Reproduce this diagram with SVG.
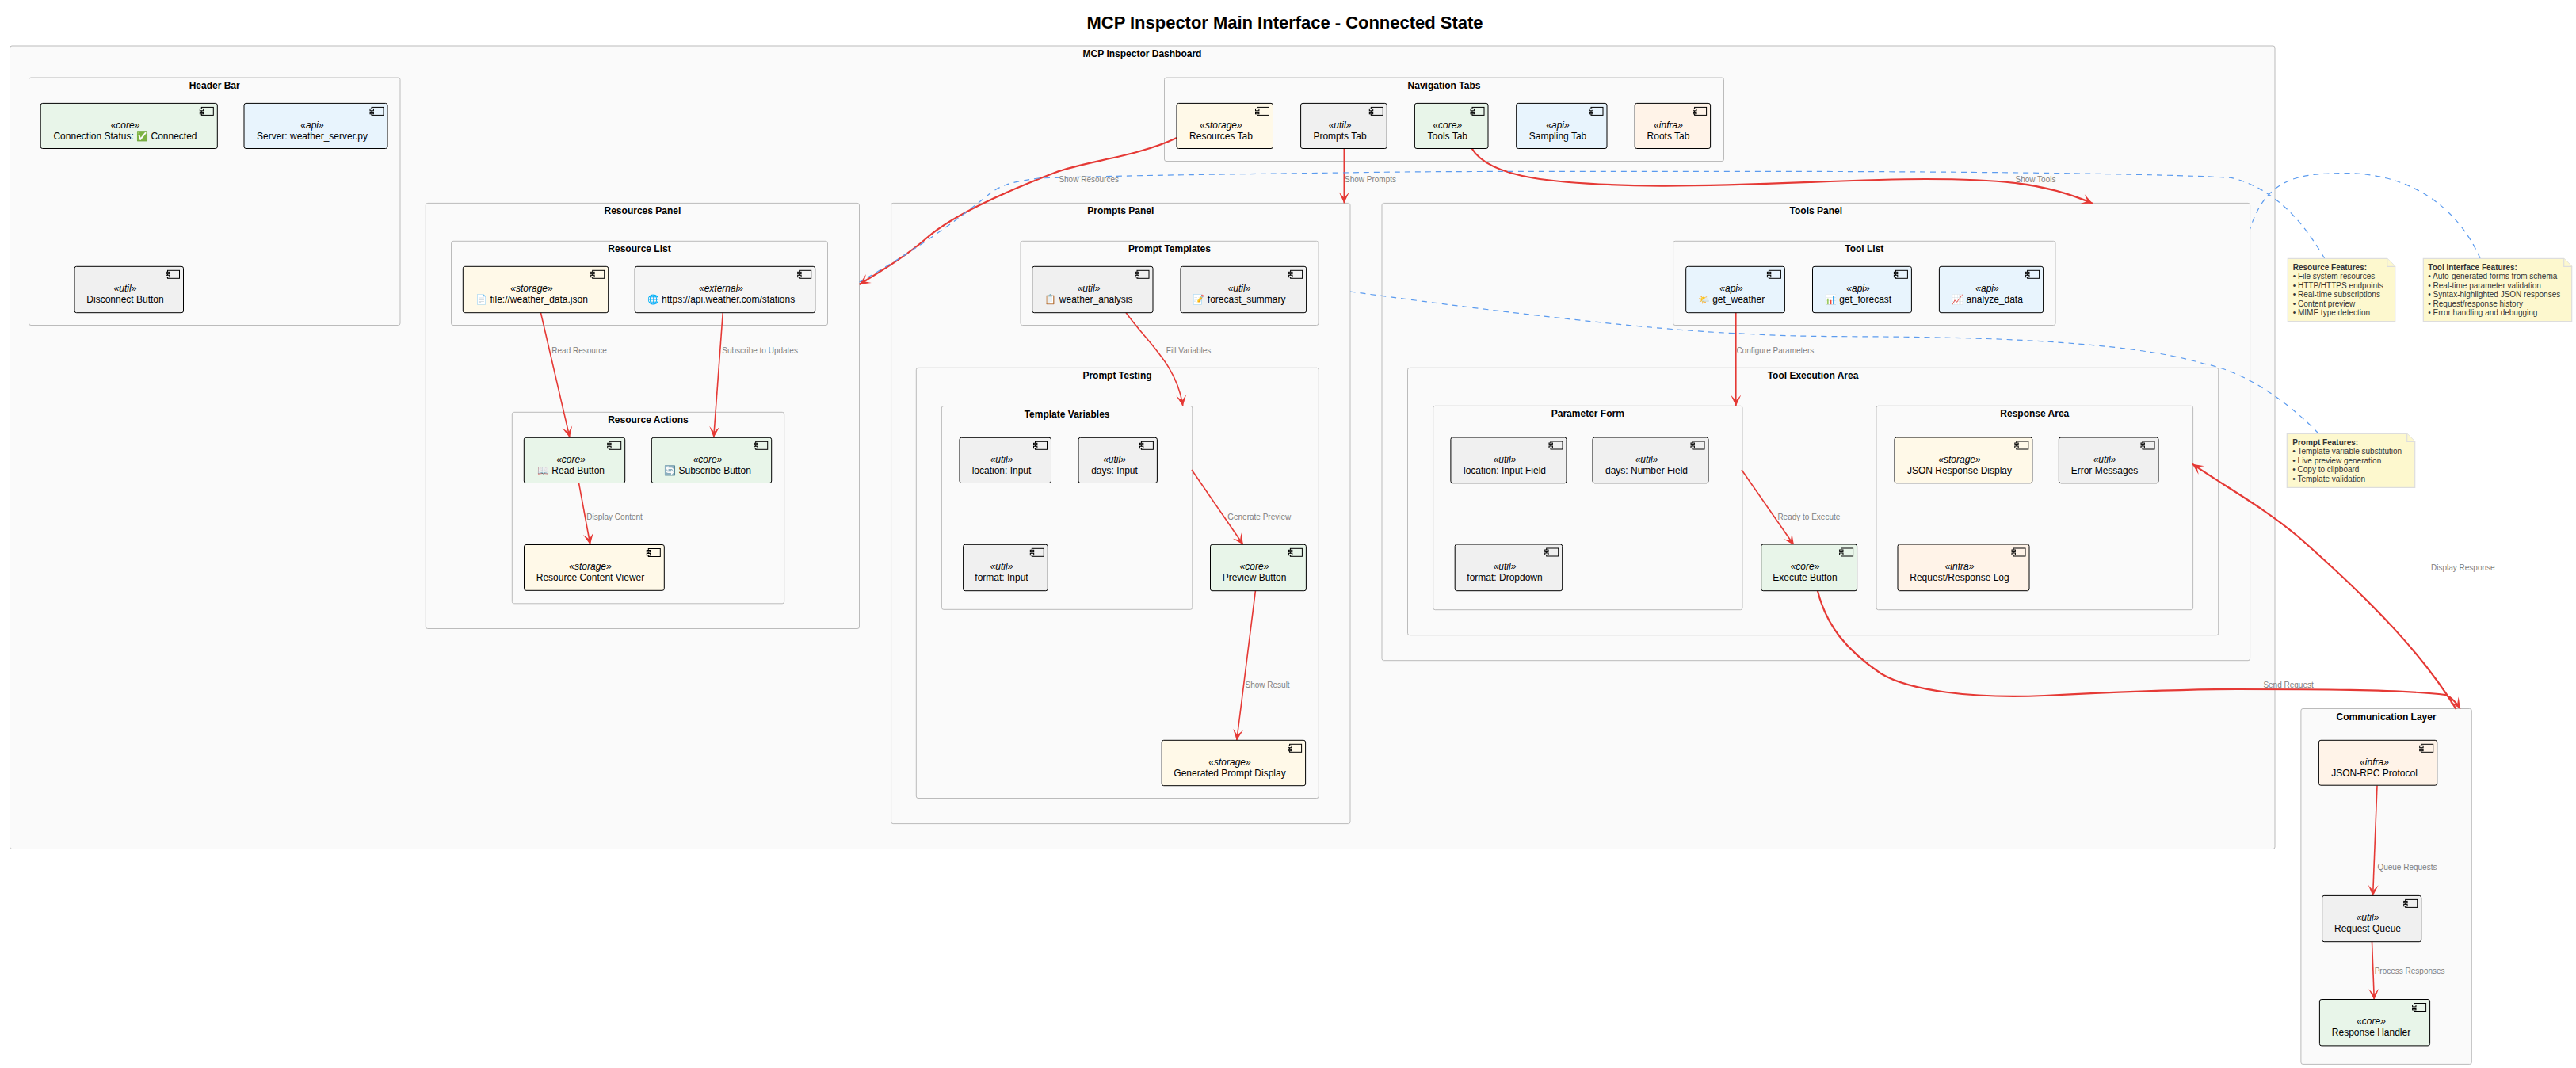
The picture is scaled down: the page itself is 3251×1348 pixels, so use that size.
<svg xmlns="http://www.w3.org/2000/svg" width="3251" height="1348" viewBox="0 0 3251 1348">
<style>
text{font-family:"Liberation Sans",Arial,sans-serif}
.ft{font-size:12px;font-weight:bold;fill:#000;text-anchor:middle}
.f{fill:#FAFAFA;stroke:#BBB;stroke-width:1}
.nb{stroke:#000;stroke-width:1}
.core{fill:#E8F5E9}.api{fill:#E8F4FD}.storage{fill:#FFF9E8}.util{fill:#F0F0F0}.infra{fill:#FFF3E8}.external{fill:#F5F5F5}
.s{font-size:12px;font-style:italic;fill:#000;text-anchor:middle}
.n{font-size:12px;fill:#000;text-anchor:middle}
.l{font-size:10px;fill:#808080}
.r{fill:none;stroke:#E53935;stroke-width:1.6}
.r2{fill:none;stroke:#E53935;stroke-width:2.2}
.b{fill:none;stroke:#5B9BEF;stroke-width:1.2;stroke-dasharray:7 6}
.note{fill:#FDF8CE;stroke:#DDD;stroke-width:1.2}
.nt{font-size:10px;fill:#333}
.ntb{font-size:10px;fill:#333;font-weight:bold}
</style>
<defs>
<g id="ci"><rect x="2" y="0" width="15" height="10" stroke="#000"/><rect x="0" y="2" width="4.4" height="2.4" stroke="#000"/><rect x="0" y="6" width="4.4" height="2.4" stroke="#000"/></g>
<marker id="a" markerUnits="userSpaceOnUse" viewBox="-15 -8 16 16" refX="0" refY="0" markerWidth="16" markerHeight="16" orient="auto"><path d="M0 0L-14 -6.5L-7 0L-14 6.5Z" fill="#E53935"/></marker>
</defs>
<rect width="3251" height="1348" fill="#fff"/>
<text x="1621.5" y="36" font-size="22" font-weight="bold" text-anchor="middle" textLength="500">MCP Inspector Main Interface - Connected State</text>

<g id="frames">
<g id="frame-dashboard"><rect class="f" x="12.5" y="58" width="2858.5" height="1013.5" rx="2.5"/><text class="ft" x="1441.5" y="72">MCP Inspector Dashboard</text></g>
<g id="frame-header"><rect class="f" x="36.5" y="98" width="468.5" height="312.5" rx="2.5"/><text class="ft" x="270.7" y="112">Header Bar</text></g>
<g id="frame-nav"><rect class="f" x="1469.5" y="98" width="706" height="105.5" rx="2.5"/><text class="ft" x="1822.5" y="112">Navigation Tabs</text></g>
<g id="frame-resources"><rect class="f" x="537.3" y="256.4" width="547.2" height="537.1" rx="2.5"/><text class="ft" x="810.9" y="270.4">Resources Panel</text></g>
<g id="frame-resource-list"><rect class="f" x="569.5" y="304.3" width="475" height="106.2" rx="2.5"/><text class="ft" x="807" y="318.3">Resource List</text></g>
<g id="frame-resource-actions"><rect class="f" x="646.3" y="520.3" width="343.4" height="241.5" rx="2.5"/><text class="ft" x="818" y="534.3">Resource Actions</text></g>
<g id="frame-prompts"><rect class="f" x="1124.6" y="256.4" width="579.4" height="783.2" rx="2.5"/><text class="ft" x="1414.3" y="270.4">Prompts Panel</text></g>
<g id="frame-prompt-templates"><rect class="f" x="1288" y="304.3" width="376" height="106.2" rx="2.5"/><text class="ft" x="1476" y="318.3">Prompt Templates</text></g>
<g id="frame-prompt-testing"><rect class="f" x="1156.3" y="464.3" width="508" height="543.2" rx="2.5"/><text class="ft" x="1410" y="478.3">Prompt Testing</text></g>
<g id="frame-template-vars"><rect class="f" x="1188.4" y="512.5" width="316.4" height="256.8" rx="2.5"/><text class="ft" x="1346.6" y="526.5">Template Variables</text></g>
<g id="frame-tools"><rect class="f" x="1744" y="256.4" width="1095.6" height="577.3" rx="2.5"/><text class="ft" x="2291.8" y="270.4">Tools Panel</text></g>
<g id="frame-tool-list"><rect class="f" x="2111.6" y="304.3" width="482.4" height="106.2" rx="2.5"/><text class="ft" x="2352.8" y="318.3">Tool List</text></g>
<g id="frame-tool-exec"><rect class="f" x="1776.5" y="464.3" width="1023.2" height="337.4" rx="2.5"/><text class="ft" x="2288" y="478.3">Tool Execution Area</text></g>
<g id="frame-param"><rect class="f" x="1808.7" y="512.3" width="390.3" height="257.4" rx="2.5"/><text class="ft" x="2003.8" y="526.3">Parameter Form</text></g>
<g id="frame-response"><rect class="f" x="2368" y="512.3" width="399.6" height="257.4" rx="2.5"/><text class="ft" x="2567.8" y="526.3">Response Area</text></g>
<g id="frame-comm"><rect class="f" x="2903.9" y="894.5" width="215.4" height="448.9" rx="2.5"/><text class="ft" x="3011.6" y="908.5">Communication Layer</text></g>
</g>

<g id="connectors">
<path class="r2" marker-end="url(#a)" d="M1485 174C1435 198 1371 203 1331 218C1300 230 1210 265 1170 300C1145 322 1115 340 1084.5 359"/>
<path class="r" marker-end="url(#a)" d="M1696.3 187.5V256.4"/>
<path class="r2" marker-end="url(#a)" d="M1857.6 187.5C1880 225 1960 233 2096 234.6C2220 235 2330 226 2430 226C2520 226 2580 230 2641 256.8"/>
<path class="r" marker-end="url(#a)" d="M682.3 394L719 552.3"/>
<path class="r" marker-end="url(#a)" d="M912.3 394L900.7 552.3"/>
<path class="r" marker-end="url(#a)" d="M730.4 609L744.9 687.5"/>
<path class="r" marker-end="url(#a)" d="M1420.6 394C1450 435 1485 460 1492.8 512.5"/>
<path class="r" marker-end="url(#a)" d="M1504 593L1569 687.5"/>
<path class="r" marker-end="url(#a)" d="M1584.5 745L1560.8 934.5"/>
<path class="r" marker-end="url(#a)" d="M2190.8 394V512.5"/>
<path class="r" marker-end="url(#a)" d="M2198 593L2264 688"/>
<path class="r2" marker-end="url(#a)" d="M2293.9 745.7C2305 790 2330 820 2373.5 850C2410 872 2490 882 2580 878C2660 874 2740 870 2823 870C2910 870 3030 870 3086 877C3094 880 3100 887 3105 894.5"/>
<path class="r2" marker-end="url(#a)" d="M3099.7 895C3060 830 3000 765 2900 677C2860 643 2810 615 2766.8 585.7"/>
<path class="r" marker-end="url(#a)" d="M3000 991.5L2994.6 1131"/>
<path class="r" marker-end="url(#a)" d="M2993.5 1188.5L2996.3 1262"/>
<path class="b" d="M2933.6 326C2915 295 2880 240 2816 224.3C2700 218 2400 216 2150 216.4C1950 216.4 1800 216 1696 218C1550 220 1430 221 1310 225C1285 229 1270 230 1250.8 243C1200 285 1140 325 1084.5 356"/>
<path class="b" d="M3130 326C3110 280 3060 218 2957 218.6C2900 219 2860 225 2839.6 289"/>
<path class="b" d="M2926 547C2895 515 2840 470 2781 459C2720 440 2600 428 2430 425.7C2350 424 2270 426 2200 421C2100 418 1900 395 1704 368"/>
<text class="l" x="1336.4" y="230.3">Show Resources</text>
<text class="l" x="1697" y="230.3">Show Prompts</text>
<text class="l" x="2543.5" y="230.3">Show Tools</text>
<text class="l" x="696.3" y="446.3">Read Resource</text>
<text class="l" x="911.3" y="446.3">Subscribe to Updates</text>
<text class="l" x="740.3" y="655.5">Display Content</text>
<text class="l" x="1471.8" y="446.3">Fill Variables</text>
<text class="l" x="1549.2" y="655.5">Generate Preview</text>
<text class="l" x="1571.5" y="868.2">Show Result</text>
<text class="l" x="2191.4" y="446.3">Configure Parameters</text>
<text class="l" x="2243.4" y="655.5">Ready to Execute</text>
<text class="l" x="2856.4" y="867.9">Send Request</text>
<text class="l" x="3068" y="719.5">Display Response</text>
<text class="l" x="3000.4" y="1098">Queue Requests</text>
<text class="l" x="2996.7" y="1229.2">Process Responses</text>
</g>

<g id="nodes">
<g id="conn-status" class="core"><rect class="nb" x="51.2" y="130.4" width="223.1" height="57.1" rx="2.5"/><use href="#ci" x="252.3" y="135.4"/><text class="s" x="158" y="161.9">«core»</text><text class="n" x="158" y="176">Connection Status: ✅ Connected</text></g>
<g id="server" class="api"><rect class="nb" x="308" y="130.4" width="181" height="57.1" rx="2.5"/><use href="#ci" x="467" y="135.4"/><text class="s" x="394" y="161.9">«api»</text><text class="n" x="394" y="176">Server: weather_server.py</text></g>
<g id="disconnect" class="util"><rect class="nb" x="94" y="336.3" width="137.5" height="58.4" rx="2.5"/><use href="#ci" x="209.5" y="341.3"/><text class="s" x="158" y="367.7">«util»</text><text class="n" x="158" y="382.3">Disconnect Button</text></g>
<g id="res-tab" class="storage"><rect class="nb" x="1485" y="130.4" width="121.5" height="57.1" rx="2.5"/><use href="#ci" x="1584.5" y="135.4"/><text class="s" x="1541" y="161.9">«storage»</text><text class="n" x="1541" y="176">Resources Tab</text></g>
<g id="prompts-tab" class="util"><rect class="nb" x="1641.6" y="130.4" width="108.7" height="57.1" rx="2.5"/><use href="#ci" x="1728.3" y="135.4"/><text class="s" x="1691" y="161.9">«util»</text><text class="n" x="1691" y="176">Prompts Tab</text></g>
<g id="tools-tab" class="core"><rect class="nb" x="1785.4" y="130.4" width="92.6" height="57.1" rx="2.5"/><use href="#ci" x="1856" y="135.4"/><text class="s" x="1826.8" y="161.9">«core»</text><text class="n" x="1826.8" y="176">Tools Tab</text></g>
<g id="sampling-tab" class="api"><rect class="nb" x="1913.7" y="130.4" width="114.3" height="57.1" rx="2.5"/><use href="#ci" x="2006" y="135.4"/><text class="s" x="1966" y="161.9">«api»</text><text class="n" x="1966" y="176">Sampling Tab</text></g>
<g id="roots-tab" class="infra"><rect class="nb" x="2063.2" y="130.4" width="95.4" height="57.1" rx="2.5"/><use href="#ci" x="2136.6" y="135.4"/><text class="s" x="2105.5" y="161.9">«infra»</text><text class="n" x="2105.5" y="176">Roots Tab</text></g>
<g id="file-res" class="storage"><rect class="nb" x="584.3" y="336.3" width="183.4" height="58.4" rx="2.5"/><use href="#ci" x="745.7" y="341.3"/><text class="s" x="671" y="367.7">«storage»</text><text class="n" x="671" y="382.3">📄 file://weather_data.json</text></g>
<g id="api-res" class="external"><rect class="nb" x="801.3" y="336.3" width="227.4" height="58.4" rx="2.5"/><use href="#ci" x="1006.7" y="341.3"/><text class="s" x="910" y="367.7">«external»</text><text class="n" x="910" y="382.3">🌐 https://api.weather.com/stations</text></g>
<g id="read-btn" class="core"><rect class="nb" x="661.3" y="552.3" width="127.4" height="57.2" rx="2.5"/><use href="#ci" x="766.7" y="557.3"/><text class="s" x="720.5" y="583.7">«core»</text><text class="n" x="720.5" y="598">📖 Read Button</text></g>
<g id="sub-btn" class="core"><rect class="nb" x="822.3" y="552.3" width="151.4" height="57.2" rx="2.5"/><use href="#ci" x="951.7" y="557.3"/><text class="s" x="893" y="583.7">«core»</text><text class="n" x="893" y="598">🔄 Subscribe Button</text></g>
<g id="viewer" class="storage"><rect class="nb" x="661.5" y="687.5" width="176.8" height="57.8" rx="2.5"/><use href="#ci" x="816.3" y="692.5"/><text class="s" x="745" y="719">«storage»</text><text class="n" x="745" y="733.3">Resource Content Viewer</text></g>
<g id="weather-analysis" class="util"><rect class="nb" x="1302.7" y="336.3" width="152.3" height="58.4" rx="2.5"/><use href="#ci" x="1433" y="341.3"/><text class="s" x="1374" y="367.7">«util»</text><text class="n" x="1374" y="382.3">📋 weather_analysis</text></g>
<g id="forecast-summary" class="util"><rect class="nb" x="1490" y="336.3" width="158.6" height="58.4" rx="2.5"/><use href="#ci" x="1626.6" y="341.3"/><text class="s" x="1564" y="367.7">«util»</text><text class="n" x="1564" y="382.3">📝 forecast_summary</text></g>
<g id="loc-input" class="util"><rect class="nb" x="1211" y="552.3" width="115.5" height="57.2" rx="2.5"/><use href="#ci" x="1304.5" y="557.3"/><text class="s" x="1264" y="583.7">«util»</text><text class="n" x="1264" y="598">location: Input</text></g>
<g id="days-input" class="util"><rect class="nb" x="1361" y="552.3" width="99.4" height="57.2" rx="2.5"/><use href="#ci" x="1438.4" y="557.3"/><text class="s" x="1406.5" y="583.7">«util»</text><text class="n" x="1406.5" y="598">days: Input</text></g>
<g id="format-input" class="util"><rect class="nb" x="1215.6" y="687.3" width="106.7" height="58.4" rx="2.5"/><use href="#ci" x="1300.3" y="692.3"/><text class="s" x="1264" y="719">«util»</text><text class="n" x="1264" y="733.3">format: Input</text></g>
<g id="preview-btn" class="core"><rect class="nb" x="1527.5" y="687.3" width="120.9" height="58.4" rx="2.5"/><use href="#ci" x="1626.4" y="692.3"/><text class="s" x="1583" y="719">«core»</text><text class="n" x="1583" y="733.3">Preview Button</text></g>
<g id="gen-prompt" class="storage"><rect class="nb" x="1466.2" y="934.3" width="181.4" height="57.4" rx="2.5"/><use href="#ci" x="1625.6" y="939.3"/><text class="s" x="1552" y="965.6">«storage»</text><text class="n" x="1552" y="980">Generated Prompt Display</text></g>
<g id="get-weather" class="api"><rect class="nb" x="2127.7" y="336.3" width="124.7" height="58.4" rx="2.5"/><use href="#ci" x="2230.4" y="341.3"/><text class="s" x="2185" y="367.7">«api»</text><text class="n" x="2185" y="382.3">🌤️ get_weather</text></g>
<g id="get-forecast" class="api"><rect class="nb" x="2287.5" y="336.3" width="124.9" height="58.4" rx="2.5"/><use href="#ci" x="2390.4" y="341.3"/><text class="s" x="2345" y="367.7">«api»</text><text class="n" x="2345" y="382.3">📊 get_forecast</text></g>
<g id="analyze-data" class="api"><rect class="nb" x="2447.4" y="336.3" width="131.2" height="58.4" rx="2.5"/><use href="#ci" x="2556.6" y="341.3"/><text class="s" x="2508" y="367.7">«api»</text><text class="n" x="2508" y="382.3">📈 analyze_data</text></g>
<g id="loc-field" class="util"><rect class="nb" x="1830.9" y="552" width="146.1" height="57.7" rx="2.5"/><use href="#ci" x="1955" y="557"/><text class="s" x="1899" y="583.7">«util»</text><text class="n" x="1899" y="598">location: Input Field</text></g>
<g id="days-field" class="util"><rect class="nb" x="2010" y="552" width="146" height="57.7" rx="2.5"/><use href="#ci" x="2134" y="557"/><text class="s" x="2078" y="583.7">«util»</text><text class="n" x="2078" y="598">days: Number Field</text></g>
<g id="format-field" class="util"><rect class="nb" x="1836.2" y="687" width="135.5" height="58.7" rx="2.5"/><use href="#ci" x="1949.7" y="692"/><text class="s" x="1899" y="719">«util»</text><text class="n" x="1899" y="733.3">format: Dropdown</text></g>
<g id="execute-btn" class="core"><rect class="nb" x="2222.7" y="687" width="120.9" height="58.7" rx="2.5"/><use href="#ci" x="2321.6" y="692"/><text class="s" x="2278" y="719">«core»</text><text class="n" x="2278" y="733.3">Execute Button</text></g>
<g id="json-display" class="storage"><rect class="nb" x="2391" y="552" width="173.8" height="57.7" rx="2.5"/><use href="#ci" x="2542.8" y="557"/><text class="s" x="2473" y="583.7">«storage»</text><text class="n" x="2473" y="598">JSON Response Display</text></g>
<g id="error-msg" class="util"><rect class="nb" x="2598.4" y="552" width="125.6" height="57.7" rx="2.5"/><use href="#ci" x="2702" y="557"/><text class="s" x="2656" y="583.7">«util»</text><text class="n" x="2656" y="598">Error Messages</text></g>
<g id="req-log" class="infra"><rect class="nb" x="2395" y="687" width="166" height="58.7" rx="2.5"/><use href="#ci" x="2539" y="692"/><text class="s" x="2473" y="719">«infra»</text><text class="n" x="2473" y="733.3">Request/Response Log</text></g>
<g id="jsonrpc" class="infra"><rect class="nb" x="2926.4" y="934.3" width="149.3" height="56.9" rx="2.5"/><use href="#ci" x="3053.7" y="939.3"/><text class="s" x="2996.5" y="965.6">«infra»</text><text class="n" x="2996.5" y="980">JSON-RPC Protocol</text></g>
<g id="req-queue" class="util"><rect class="nb" x="2930.6" y="1130.4" width="125.1" height="58.3" rx="2.5"/><use href="#ci" x="3033.7" y="1135.4"/><text class="s" x="2988" y="1162">«util»</text><text class="n" x="2988" y="1176">Request Queue</text></g>
<g id="resp-handler" class="core"><rect class="nb" x="2927.4" y="1261.5" width="139.2" height="58.4" rx="2.5"/><use href="#ci" x="3044.6" y="1266.5"/><text class="s" x="2992.5" y="1293">«core»</text><text class="n" x="2992.5" y="1307">Response Handler</text></g>
</g>

<g id="notes">
<g id="note-resource"><path class="note" d="M2887.3 326.3H3012.7L3022.7 336.3V405.7H2887.3Z"/><path class="note" d="M3012.7 326.3V336.3H3022.7"/><text class="ntb" x="2893.7" y="341.2">Resource Features:</text><text class="nt" x="2893.7" y="352.3">• File system resources</text><text class="nt" x="2893.7" y="364">• HTTP/HTTPS endpoints</text><text class="nt" x="2893.7" y="375.3">• Real-time subscriptions</text><text class="nt" x="2893.7" y="387">• Content preview</text><text class="nt" x="2893.7" y="398.3">• MIME type detection</text></g>
<g id="note-tool"><path class="note" d="M3058.3 326.3H3235.7L3245.7 336.3V405.7H3058.3Z"/><path class="note" d="M3235.7 326.3V336.3H3245.7"/><text class="ntb" x="3064.3" y="341.2">Tool Interface Features:</text><text class="nt" x="3064.3" y="352.3">• Auto-generated forms from schema</text><text class="nt" x="3064.3" y="364">• Real-time parameter validation</text><text class="nt" x="3064.3" y="375.3">• Syntax-highlighted JSON responses</text><text class="nt" x="3064.3" y="387">• Request/response history</text><text class="nt" x="3064.3" y="398.3">• Error handling and debugging</text></g>
<g id="note-prompt"><path class="note" d="M2886.3 547.3H3037.7L3047.7 557.3V615.3H2886.3Z"/><path class="note" d="M3037.7 547.3V557.3H3047.7"/><text class="ntb" x="2893.3" y="562.2">Prompt Features:</text><text class="nt" x="2893.3" y="573.3">• Template variable substitution</text><text class="nt" x="2893.3" y="585">• Live preview generation</text><text class="nt" x="2893.3" y="596.3">• Copy to clipboard</text><text class="nt" x="2893.3" y="608">• Template validation</text></g>
</g>
</svg>
